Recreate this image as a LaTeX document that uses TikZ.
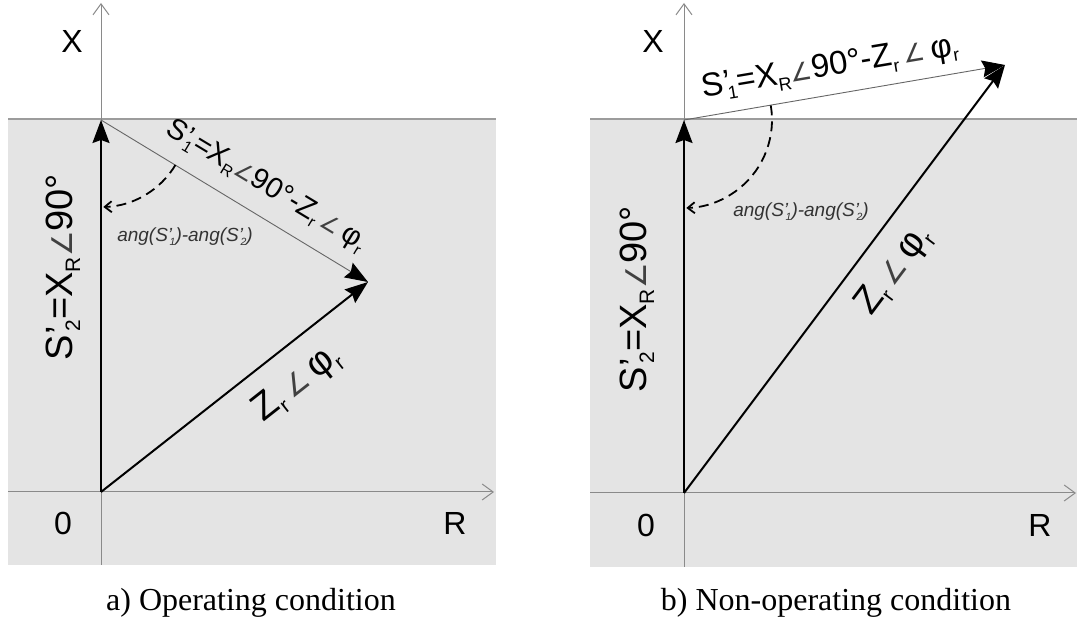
\documentclass[tikz,border=0pt]{standalone}
\usepackage{fontspec}
\setmainfont{Liberation Serif}
\setsansfont{Liberation Sans}
\newfontfamily\dvs{DejaVu Sans}
\usetikzlibrary{arrows.meta}
\newcommand\angsym{{\dvs\fontsize{0.75em}{1em}\selectfont\color{black!75}∠}}
\newcommand\lsub[1]{\raisebox{-0.2em}{\fontsize{0.55em}{0.6em}\selectfont #1}}
\newcommand\Sp[1]{S\rlap{’}\lsub{\,#1}}
\definecolor{panel}{HTML}{E4E4E4}
\definecolor{axisgray}{HTML}{8A8A8A}
\definecolor{bordergray}{HTML}{9C9C9C}
\tikzset{
  panelbox/.style={fill=panel, draw=none},
  topborder/.style={draw=bordergray, line width=2.5pt},
  axisline/.style={draw=axisgray, line width=1pt, -{Straight Barb[length=11pt,width=16pt]}},
  axisplain/.style={draw=axisgray, line width=1pt},
  vecmain/.style={draw=black, line width=2pt, -{Stealth[length=23pt,width=17pt,inset=3pt]}},
  vecthin/.style={draw=black!60, line width=0.9pt, -{Stealth[length=23pt,width=17pt,inset=3pt,color=black]}},
  anglearc/.style={draw=black, line width=1.8pt, dash pattern=on 10pt off 6pt, -{Straight Barb[length=7pt,width=11pt]}},
  axlabel/.style={font=\sffamily\fontsize{32}{36}\selectfont, inner sep=0pt},
  vlabel/.style={font=\sffamily\fontsize{38}{42}\selectfont, inner sep=0pt},
  s1label/.style={font=\sffamily\fontsize{29}{32}\selectfont, inner sep=0pt},
  anglabel/.style={font=\sffamily\itshape\fontsize{19}{22}\selectfont, text=black!80, inner sep=0pt},
  caption/.style={font=\fontsize{32}{36}\selectfont, inner sep=0pt}
}
\begin{document}
\begin{tikzpicture}[x=1pt,y=1pt]
\useasboundingbox (0,0) rectangle (1077,628);
% ---------- panel a ----------
\fill[panelbox] (8,63) rectangle (496,509);
\draw[topborder] (8,509) -- (496,509);
\coordinate (O1) at (101,136);
\coordinate (T1) at (101,508);
\coordinate (P1) at (368,346);
\coordinate (Xa1) at (101,625);
\coordinate (Xb1) at (101,63);
\coordinate (Ra1) at (8,136);
\coordinate (Rb1) at (494,136);
\draw[axisplain] (Xb1) -- (O1);
\draw[axisline] (O1) -- (Xa1);
\draw[axisline] (Ra1) -- (Rb1);
\draw[vecmain] (O1) -- (T1);
\draw[vecthin] (T1) -- (P1);
\draw[vecmain] (O1) -- (P1);
\draw[anglearc] (T1) ++(-31.1:87pt) arc[start angle=-31.1, end angle=-88.5, radius=87pt];
\node[axlabel] (X1) at (72,586) {X};
\node[axlabel] (Z1) at (63,105) {0};
\node[axlabel] (R1) at (455,105) {R};
\node[vlabel, rotate=90] (S2a) at (63,361) {\Sp{2}=X\lsub{R}\angsym 90°};
\node[vlabel, rotate=38.2] (Zra) at (297,244) {Z\lsub{r}\,\angsym\,φ\lsub{r}};
\node[s1label, rotate=-31.1] (S1a) at (266,442) {\Sp{1}=X\lsub{R}\angsym 90°-Z\lsub{r}\,\angsym\,φ\lsub{r}};
\node[anglabel] (Ana) at (185,391) {ang(\Sp{1})-ang(\Sp{2})};
\node[caption] (Ca) at (251,25) {a) Operating condition};
% ---------- panel b ----------
\fill[panelbox] (590,61) rectangle (1077,509);
\draw[topborder] (590,509) -- (1077,509);
\coordinate (O2) at (684,135);
\coordinate (T2) at (684,508);
\coordinate (P2) at (1005,563);
\coordinate (Xa2) at (684,625);
\coordinate (Xb2) at (684,61);
\coordinate (Ra2) at (590,135);
\coordinate (Rb2) at (1076,135);
\draw[axisplain] (Xb2) -- (O2);
\draw[axisline] (O2) -- (Xa2);
\draw[axisline] (Ra2) -- (Rb2);
\draw[vecmain] (O2) -- (T2);
\draw[vecthin] (T2) -- (P2);
\draw[vecmain] (O2) -- (P2);
\draw[anglearc] (T2) ++(9.55:88pt) arc[start angle=9.55, end angle=-88.5, radius=88pt];
\node[axlabel] (X2) at (653,586) {X};
\node[axlabel] (Z2) at (646,103) {0};
\node[axlabel] (R2) at (1040,103) {R};
\node[vlabel, rotate=90] (S2b) at (637,329) {\Sp{2}=X\lsub{R}\angsym 90°};
\node[vlabel, rotate=53.1] (Zrb) at (894,357) {Z\lsub{r}\,\angsym\,φ\lsub{r}};
\node[s1label, font=\sffamily\fontsize{33}{36}\selectfont, rotate=9.55] (S1b) at (830,560) {\Sp{1}=X\lsub{R}\angsym 90°-Z\lsub{r}\,\angsym\,φ\lsub{r}};
\node[anglabel] (Anb) at (801,416) {ang(\Sp{1})-ang(\Sp{2})};
\node[caption] (Cb) at (836,25) {b) Non-operating condition};
\end{tikzpicture}
\end{document}
